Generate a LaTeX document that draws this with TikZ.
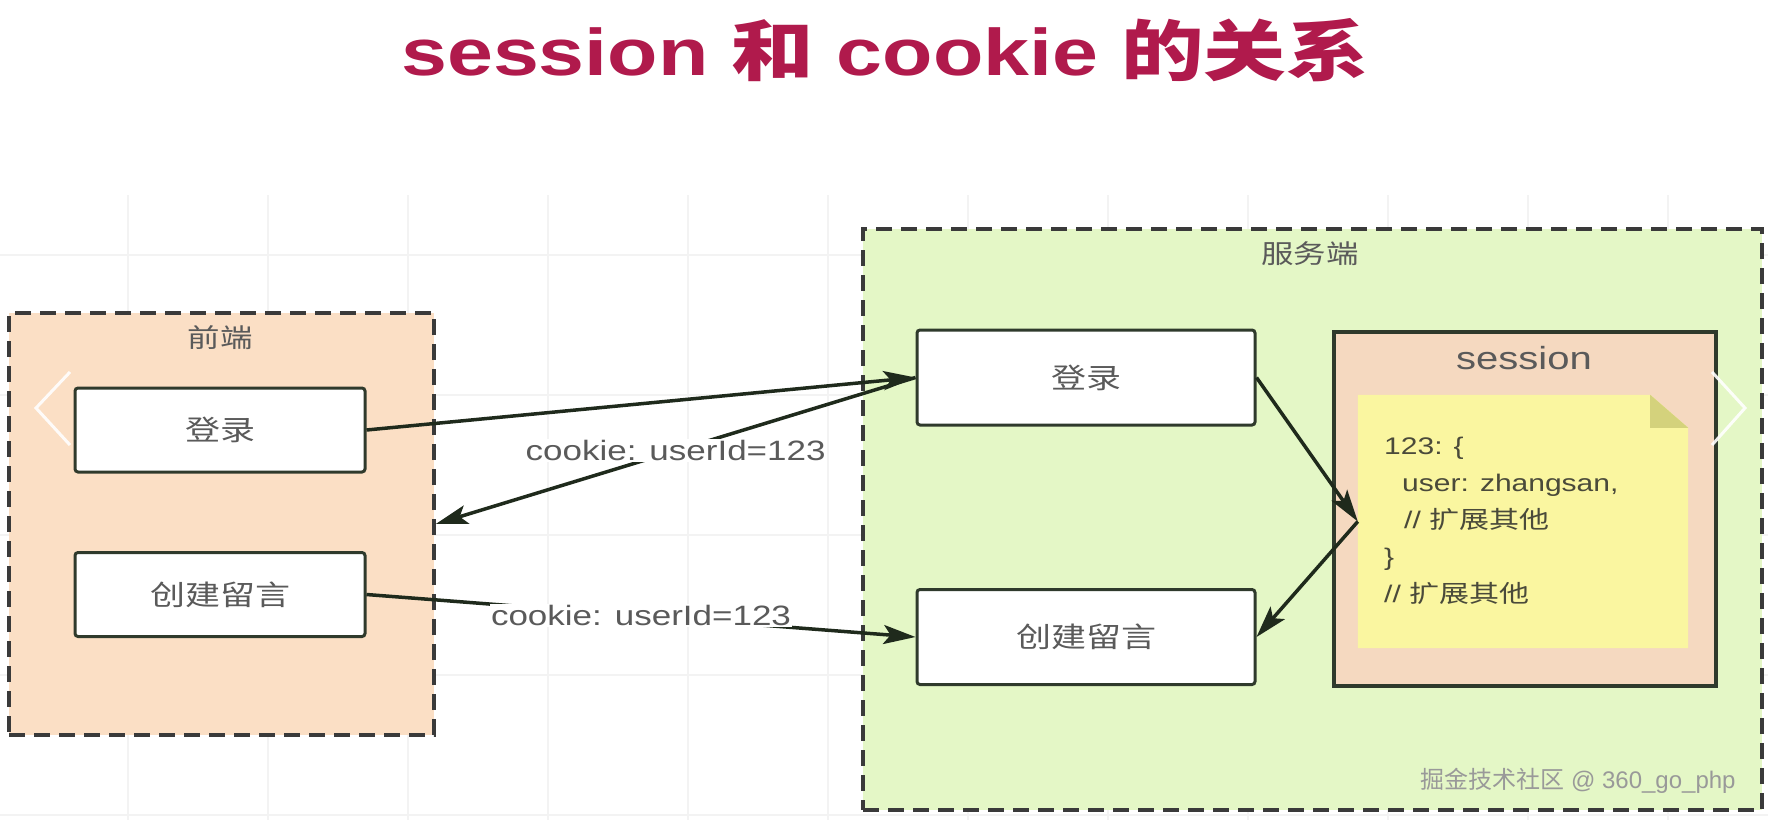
\documentclass[tikz,border=0pt]{standalone}
\usepackage{fontspec}
\setmainfont{Liberation Sans}[FakeStretch=1.25]
\newfontfamily\cjk{Noto Sans CJK SC}[FakeStretch=1.25]
\newfontfamily\wmfont{Liberation Sans}
\newfontfamily\wmcjk{Noto Sans CJK SC}
\usetikzlibrary{arrows.meta}

\definecolor{titlered}{HTML}{B01A4C}
\definecolor{frontfill}{HTML}{FBDFC5}
\definecolor{serverfill}{HTML}{E4F7C6}
\definecolor{sessfill}{HTML}{F5D9C0}
\definecolor{notefill}{HTML}{FAF6A0}
\definecolor{foldc}{HTML}{D4D27C}
\definecolor{boxline}{HTML}{2F3A2C}
\definecolor{zoneline}{HTML}{3A3A3A}
\definecolor{arrowc}{HTML}{1F2A1C}
\definecolor{txtgray}{HTML}{5A5A5A}
\definecolor{notetxt}{HTML}{4A4A3A}
\definecolor{gridc}{HTML}{F3F3F3}

\begin{document}
\begin{tikzpicture}[x=1pt,y=-1pt,
  box/.style={draw=boxline, line width=3pt, fill=white, rounded corners=3pt,
    minimum width=290pt, minimum height=84pt, text=txtgray,
    font=\cjk\fontsize{28}{34}\selectfont},
  zone/.style={draw=zoneline, line width=3.5pt, dash pattern=on 16pt off 9pt},
  flow/.style={draw=arrowc, line width=3.5pt,
    -{Stealth[length=32pt,width=19pt,inset=7pt]}},
  lbl/.style={fill=white, inner sep=1pt, text=txtgray,
    font=\fontsize{28}{34}\selectfont},
  tag/.style={text=txtgray, font=\cjk\fontsize{26}{30}\selectfont}]

\useasboundingbox (0,0) rectangle (1768,820);
\fill[white] (0,0) rectangle (1768,820);

% faint canvas grid
\foreach \gx in {128,268,...,1768}
  \draw[gridc, line width=1.5pt] (\gx,195) -- (\gx,820);
\foreach \gy in {255,395,535,675,815}
  \draw[gridc, line width=1.5pt] (0,\gy) -- (1768,\gy);

% Title
\node[text=titlered, font=\bfseries\fontsize{66}{70}\selectfont] (title) at (885,50)
  {session {\cjk 和} cookie {\cjk 的关系}};

% ============================
% FRONT END
% ============================
\node[zone, fill=frontfill, minimum width=425pt, minimum height=422pt] (front) at (221.5,524) {};
\node[tag] (frontTag) at (220,338) {前端};
\node[box] (frontLogin) at (220,430) {登录};
\node[box] (frontMsg) at (220,594.5) {创建留言};

% ============================
% SERVER
% ============================
\node[zone, fill=serverfill, minimum width=899pt, minimum height=581pt] (server) at (1312.5,519.5) {};
\node[tag] (serverTag) at (1310,254) {服务端};
\node[box, minimum width=338pt, minimum height=95pt] (srvLogin) at (1086,377.5) {登录};
\node[box, minimum width=338pt, minimum height=95pt] (srvMsg) at (1086,637) {创建留言};

% session store with its note
\node[draw=boxline, line width=3.5pt, fill=sessfill, minimum width=382pt, minimum height=354pt] (session) at (1525,509) {};
\node[text=txtgray, font=\fontsize{32}{36}\selectfont] (sessTag) at (1524,358) {session};
\node[minimum width=330pt, minimum height=253pt, inner sep=0pt] (note) at (1523,521.5) {};
\fill[notefill] (note.north west) -- ([xshift=-38pt]note.north east)
  -- ([yshift=-33pt]note.north east) -- (note.south east) -- (note.south west) -- cycle;
\fill[foldc] ([xshift=-38pt]note.north east) -- ([xshift=-38pt,yshift=-33pt]note.north east)
  -- ([yshift=-33pt]note.north east) -- cycle;
\node[anchor=north west, align=left, inner sep=0pt, text=notetxt,
  font=\fontsize{24}{37}\selectfont] (data) at (1384,437)
  {123: \{\\\hspace*{18pt}user: zhangsan,\\\hspace*{20pt}// {\cjk 扩展其他}\\\}\\// {\cjk 扩展其他}};

% ============================
% REQUESTS
% ============================
\draw[flow] (frontLogin.east) -- (srvLogin.west);
\draw[flow] (srvLogin.west) -- node[lbl] (cookieA) {cookie: userId=123} (front.east);
\draw[flow] (frontMsg.east) -- node[lbl] (cookieB) {cookie: userId=123} (srvMsg.west);
\draw[flow] (srvLogin.east) -- (note.west);
\draw[flow] (note.west) -- (srvMsg.east);

% carousel chevrons
\draw[white, line width=3pt, opacity=0.9] (70,372) -- (36,408) -- (70,445);
\draw[white, line width=3pt, opacity=0.9] (1712,372) -- (1745,408) -- (1712,445);

% watermark
\node[text=black!40, font=\wmfont\fontsize{24}{28}\selectfont] (mark) at (1578,781)
  {{\wmcjk 掘金技术社区} @ 360\_go\_php};

\end{tikzpicture}
\end{document}
